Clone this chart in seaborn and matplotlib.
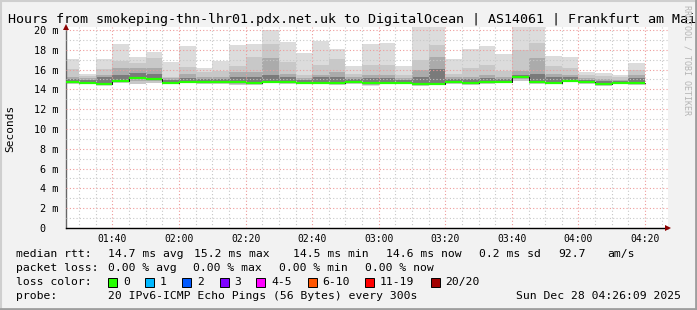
import numpy as np
import pandas as pd
import matplotlib
matplotlib.use("Agg")
import matplotlib.pyplot as plt
import matplotlib.patches as mpatches
import matplotlib.lines as mlines
import seaborn as sns

# ---------------- data ----------------
interval_end = ["01:30", "01:35", "01:40", "01:45", "01:50", "01:55", "02:00",
                "02:05", "02:10", "02:15", "02:20", "02:25", "02:30", "02:35",
                "02:40", "02:45", "02:50", "02:55", "03:00", "03:05", "03:10",
                "03:15", "03:20", "03:25", "03:30", "03:35", "03:40", "03:45",
                "03:50", "03:55", "04:00", "04:05", "04:10", "04:15", "04:20"]
max_rtt = [17.04, 15.52, 17.04, 18.6, 17.27, 17.8, 16.8, 18.4, 16.2, 16.9,
           18.5, 18.6, 19.95, 18.8, 17.7, 18.9, 18.05, 16.36, 18.6, 18.7,
           16.36, 21.0, 20.8, 17.05, 18.08, 18.38, 17.6, 20.9, 21.2, 17.4,
           17.27, 15.8, 15.68, 15.45, 16.7]
upper2 = [16.06, 15.35, 16.1, 16.9, 16.7, 17.14, 15.28, 16.3, 15.8, 15.85,
          16.4, 17.24, 18.6, 16.8, 15.45, 16.46, 17.04, 15.6, 16.46, 16.46,
          15.45, 16.97, 18.5, 15.6, 16.13, 16.46, 15.86, 17.97, 18.65, 16.4,
          16.13, 15.45, 15.4, 15.2, 15.96]
upper3 = [15.28, 15.1, 15.45, 16.13, 16.13, 16.13, 15.1, 15.6, 15.28, 15.28,
          15.8, 15.8, 17.14, 15.6, 15.1, 15.45, 15.8, 15.3, 15.45, 15.45,
          15.1, 15.96, 17.3, 15.3, 15.3, 15.45, 15.3, 15.86, 17.14, 15.6,
          15.45, 15.1, 15.05, 14.95, 15.45]
upper4 = [15.0, 14.95, 15.2, 15.5, 15.69, 15.6, 14.9, 15.1, 15.0, 15.0,
          15.3, 15.3, 15.45, 15.3, 14.9, 15.2, 15.3, 15.0, 15.1, 15.1,
          14.95, 15.3, 16.1, 15.0, 15.05, 15.1, 15.05, 15.45, 15.6, 15.2,
          15.3, 14.95, 14.85, 14.85, 15.1]
median_rtt = [14.75, 14.68, 14.58, 14.88, 15.18, 15.08, 14.66, 14.76, 14.7, 14.74,
              14.72, 14.6, 14.78, 14.72, 14.66, 14.68, 14.6, 14.72, 14.6, 14.68,
              14.68, 14.5, 14.58, 14.72, 14.65, 14.7, 14.78, 15.22, 14.7, 14.68,
              14.88, 14.72, 14.5, 14.68, 14.6]
min_rtt = [14.52, 14.5, 14.37, 14.62, 14.52, 14.62, 14.5, 14.6, 14.5, 14.5,
           14.4, 14.45, 14.6, 14.55, 14.5, 14.5, 14.45, 14.55, 14.37, 14.5,
           14.5, 14.3, 14.45, 14.55, 14.45, 14.5, 14.6, 14.85, 14.5, 14.5,
           14.7, 14.55, 14.35, 14.5, 14.45]

x_tick_labels = ["01:40", "02:00", "02:20", "02:40", "03:00", "03:20", "03:40", "04:00", "04:20"]
y_tick_values = [0, 2, 4, 6, 8, 10, 12, 14, 16, 18, 20]
y_tick_labels = ["0  ", "2 m", "4 m", "6 m", "8 m", "10 m", "12 m", "14 m", "16 m", "18 m", "20 m"]

loss_labels = ["0", "1", "2", "3", "4-5", "6-10", "11-19", "20/20"]
loss_colors = ["#26ff00", "#00b8ff", "#0059ff", "#7e00ff", "#ff00ff", "#ff5500", "#ff0000", "#a10000"]

title = "Hours from smokeping-thn-lhr01.pdx.net.uk to DigitalOcean | AS14061 | Frankfurt am Main"

# ---------------- setup ----------------
sns.set_theme(style="white")
plt.rcParams["font.family"] = ["DejaVu Sans Mono", "DejaVu Sans"]

W, H = 697, 310
BG = "#f2f2f2"
fig = plt.figure(figsize=(W / 100, H / 100), dpi=100, facecolor=BG)

ax_l, ax_r, ax_t, ax_b = 66, 668, 26.7, 228
ax = fig.add_axes([ax_l / W, (H - ax_b) / H, (ax_r - ax_l) / W, (ax_b - ax_t) / H])
ax.set_facecolor("white")


def to_min(s):
    h, m = s.split(":")
    return int(h) * 60 + int(m)


ends = np.array([to_min(s) for s in interval_end], dtype=float)
starts = ends - 5
edges = np.append(starts, ends[-1])


def stepv(v):
    v = np.asarray(v, dtype=float)
    return np.append(v, v[-1])


mn = np.asarray(min_rtt)
md = np.asarray(median_rtt)

ax.fill_between(edges, stepv(mn), stepv(max_rtt), step="post", color="#dcdcdc", lw=0, zorder=1)
ax.fill_between(edges, stepv(mn + 0.03), stepv(upper2), step="post", color="#c8c8c8", lw=0, zorder=1.1)
ax.fill_between(edges, stepv((mn + md) / 2), stepv(upper3), step="post", color="#ababab", lw=0, zorder=1.2)
ax.fill_between(edges, stepv(md - 0.08), stepv(upper4), step="post", color="#7a7a7a", lw=0, zorder=1.3)

df_med = pd.DataFrame({"t": edges, "median": stepv(md)})
sns.lineplot(data=df_med, x="t", y="median", drawstyle="steps-post", estimator=None,
             color="#111111", lw=0.7, ax=ax, zorder=2.6, legend=False)
ax.hlines(md, starts, ends, color=loss_colors[0], lw=1.6, zorder=3)

xmin, xmax = 86.05, 266.9
ax.set_xlim(xmin, xmax)
ax.set_ylim(0, 20.33)

major_x = [to_min(s) for s in x_tick_labels]
ax.set_xticks(major_x)
ax.set_xticklabels(x_tick_labels)
ax.set_xticks([to_min(s) for s in interval_end if to_min(s) not in major_x] + [265], minor=True)
ax.set_yticks(y_tick_values)
ax.set_yticklabels(y_tick_labels)
ax.set_yticks([v + 1 for v in y_tick_values[:-1]], minor=True)

ax.set_axisbelow(False)
ax.grid(which="major", color="#ee9a9a", lw=0.8, linestyle=(0, (1, 2)))
ax.grid(which="minor", color="#c8c8c8", lw=0.8, linestyle=(0, (1, 2)))

ax.tick_params(axis="x", which="both", length=0, pad=4.5, labelsize=7, colors="#000000")
ax.tick_params(axis="y", which="major", length=2, width=0.8, pad=3.5, labelsize=7.3,
               color="#555555", labelcolor="#000000", direction="out")
ax.tick_params(axis="y", which="minor", length=0)

for s in ["top", "right"]:
    ax.spines[s].set_visible(False)
ax.spines["left"].set_color("#666666")
ax.spines["left"].set_linewidth(1.0)
ax.spines["bottom"].set_color("#000000")
ax.spines["bottom"].set_linewidth(1.0)
ax.set_xlabel("")
ax.set_ylabel("")

# axis arrows
ax.plot([1.0], [0.0], marker=">", ms=5, color="#8b0000", transform=ax.transAxes,
        clip_on=False, zorder=5, mew=0)
ax.plot([0.0], [1.0], marker="^", ms=5, color="#8b0000", transform=ax.transAxes,
        clip_on=False, zorder=5, mew=0)


def ftext(x, y, s, **kw):
    kw.setdefault("va", "center")
    kw.setdefault("ha", "left")
    kw.setdefault("fontsize", 8.2)
    kw.setdefault("color", "#000000")
    return fig.text(x / W, 1 - y / H, s, **kw)


# title (clipped at right edge, as in the original)
ftext(8, 19, title, fontsize=9.65)
# watermark
ftext(687, 60, "RRDTOOL / TOBI OETIKER", fontsize=6, rotation=270, ha="center",
      color="#b5b5b5")
# y label
ftext(10, 128, "Seconds", rotation=90, ha="center", fontsize=8)

# legend lines
for x, s in [(16, "median rtt:"), (108, "14.7 ms avg"), (194, "15.2 ms max"),
             (293, "14.5 ms min"), (386, "14.6 ms now"), (479, "0.2 ms sd"),
             (558, "92.7"), (607, "am/s")]:
    ftext(x, 254, s)
for x, s in [(16, "packet loss:"), (108, "0.00 % avg"), (193, "0.00 % max"),
             (279, "0.00 % min"), (365, "0.00 % now")]:
    ftext(x, 268, s)
ftext(16, 282, "loss color:")
box_x = [108, 145, 182, 219.5, 256, 307.5, 365, 430.5]
for bx, lab, col in zip(box_x, loss_labels, loss_colors):
    fig.patches.append(mpatches.Rectangle((bx / W, 1 - 287 / H), 9 / W, 9 / H,
                                          transform=fig.transFigure, facecolor=col,
                                          edgecolor="#000000", lw=0.7))
    ftext(bx + 15, 282, lab)
ftext(16, 296, "probe:")
ftext(108, 296, "20 IPv6-ICMP Echo Pings (56 Bytes) every 300s")
ftext(681, 296, "Sun Dec 28 04:26:09 2025", ha="right")

# 3D frame
fig.add_artist(mlines.Line2D([0, 1], [1 - 0.5 / H, 1 - 0.5 / H], transform=fig.transFigure, color="#cfcfcf", lw=1.5))
fig.add_artist(mlines.Line2D([0.5 / W, 0.5 / W], [0, 1], transform=fig.transFigure, color="#cfcfcf", lw=1.5))
fig.add_artist(mlines.Line2D([0, 1], [1 / H, 1 / H], transform=fig.transFigure, color="#9e9e9e", lw=2))
fig.add_artist(mlines.Line2D([1 - 1 / W, 1 - 1 / W], [0, 1], transform=fig.transFigure, color="#9e9e9e", lw=2))

fig.savefig("out.png", dpi=100, facecolor=BG)
